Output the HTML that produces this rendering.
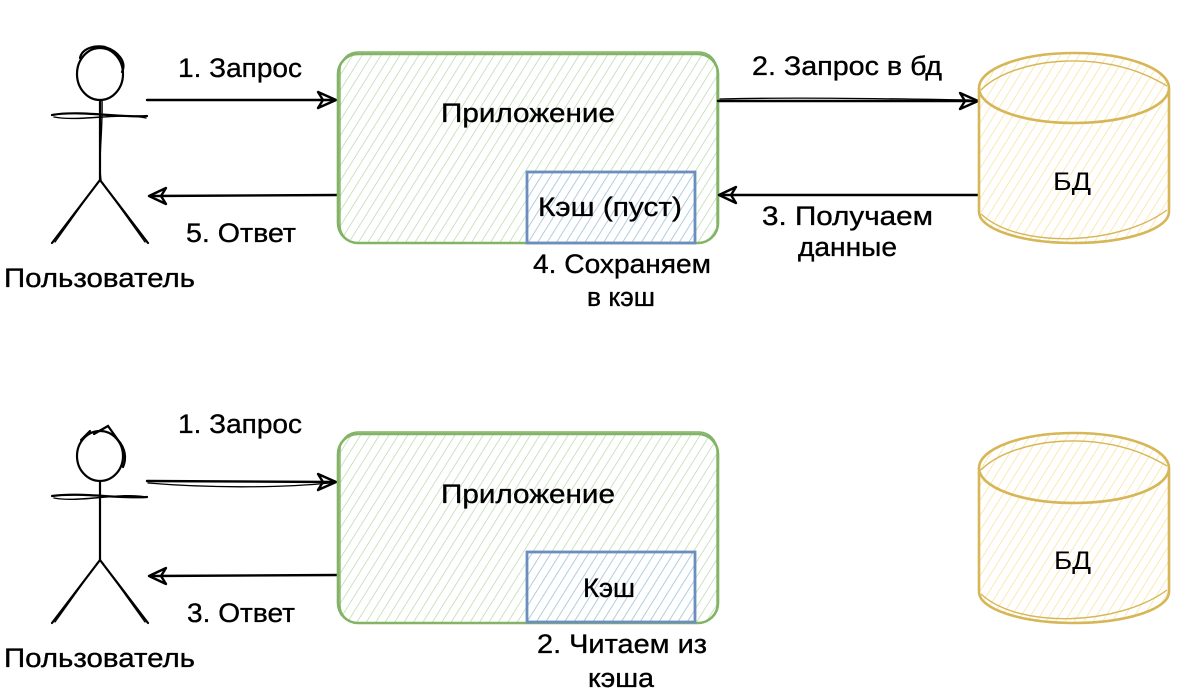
<!DOCTYPE html>
<html>
<head>
<meta charset="utf-8">
<style>
  html,body{margin:0;padding:0;background:#fff;}
  svg{display:block;}
  .t{font-family:"Liberation Sans","DejaVu Sans",sans-serif;font-size:27px;fill:#000;stroke:#000;stroke-width:0.35;}
  .b{font-family:"Liberation Sans","DejaVu Sans",sans-serif;font-size:25px;fill:#000;}
</style>
</head>
<body>
<svg width="1181" height="699" viewBox="0 0 1181 699" xmlns="http://www.w3.org/2000/svg">
  <defs>
    <pattern id="hg" width="8" height="8" patternUnits="userSpaceOnUse" patternTransform="rotate(32)">
      <line x1="0" y1="0" x2="0" y2="8" stroke="#b4d9a3" stroke-width="1.4"/>
    </pattern>
    <pattern id="hy" width="8" height="8" patternUnits="userSpaceOnUse" patternTransform="rotate(32)">
      <line x1="0" y1="0" x2="0" y2="8" stroke="#f7e09a" stroke-width="1.4"/>
    </pattern>
    <pattern id="hb" width="8" height="8" patternUnits="userSpaceOnUse" patternTransform="rotate(32)">
      <line x1="0" y1="0" x2="0" y2="8" stroke="#aac6ee" stroke-width="1.4"/>
    </pattern>
  </defs>

  <!-- ================= TOP SECTION ================= -->
  <g fill="none" stroke="#000" stroke-width="2.2" stroke-linecap="round">
    <ellipse cx="100" cy="74" rx="23" ry="26"/>
    <path d="M80 58 C82 48 95 45 105 47 C118 51 127 62 122 72" />
    <path d="M100 100 L100 180"/>
    <path d="M102 100 C103 130 98 160 101 180" stroke-width="1.4"/>
    <path d="M52 115 C80 110 120 118 147 116"/>
    <path d="M54 117 C80 122 120 112 146 118" stroke-width="1.4"/>
    <path d="M100 180 L52 243"/>
    <path d="M100 180 L148 243"/>
    <path d="M98 182 L55 242" stroke-width="1.3"/>
    <path d="M102 182 L145 242" stroke-width="1.3"/>
  </g>
  <text class="t" x="4" y="287" textLength="191" lengthAdjust="spacingAndGlyphs">Пользователь</text>

  <g fill="none" stroke="#000" stroke-width="2.4" stroke-linecap="round" stroke-linejoin="round">
    <path d="M147 100 L333 100"/>
    <path d="M318 92 L336 100 L318 108 L323 100 Z"/>
    <path d="M338 195 L152 196"/>
    <path d="M166 188 L149 196 L166 204 L161 196 Z"/>
  </g>
  <text class="t" x="178" y="77" textLength="124" lengthAdjust="spacingAndGlyphs">1. Запрос</text>
  <text class="t" x="186" y="242" textLength="110" lengthAdjust="spacingAndGlyphs">5. Ответ</text>

  <rect x="338" y="54" width="380" height="189" rx="20" fill="url(#hg)"/>
  <rect x="338" y="54" width="380" height="189" rx="20" fill="none" stroke="#82b366" stroke-width="2.6"/>
  <rect x="340" y="52" width="377" height="191" rx="18" fill="none" stroke="#82b366" stroke-width="1.4"/>
  <text class="t" x="441" y="122" textLength="174" lengthAdjust="spacingAndGlyphs">Приложение</text>

  <rect x="527" y="172" width="168" height="71" fill="url(#hb)"/>
  <rect x="527" y="172" width="168" height="71" fill="none" stroke="#6c8ebf" stroke-width="2.8"/>
  <text class="t" x="538" y="216" textLength="144" lengthAdjust="spacingAndGlyphs">Кэш (пуст)</text>
  <text class="t" x="533" y="273" textLength="178" lengthAdjust="spacingAndGlyphs">4. Сохраняем</text>
  <text class="t" x="587" y="306" textLength="68" lengthAdjust="spacingAndGlyphs">в кэш</text>

  <g fill="none" stroke="#000" stroke-width="2.4" stroke-linecap="round" stroke-linejoin="round">
    <path d="M718 101 L975 101"/>
    <path d="M720 99 C800 97 900 99 970 100" stroke-width="1.3"/>
    <path d="M960 93 L978 101 L960 109 L965 101 Z"/>
    <path d="M978 195 L722 195"/>
    <path d="M736 187 L719 195 L736 203 L731 195 Z"/>
  </g>
  <text class="t" x="752" y="75" textLength="190" lengthAdjust="spacingAndGlyphs">2. Запрос в бд</text>
  <text class="t" x="762" y="225" textLength="171" lengthAdjust="spacingAndGlyphs">3. Получаем</text>
  <text class="t" x="798" y="256" textLength="99" lengthAdjust="spacingAndGlyphs">данные</text>

  <path d="M979 88 A95 35 0 0 1 1169 88 L1169 212 A95 31 0 0 1 979 212 Z" fill="url(#hy)"/>
  <g fill="none" stroke="#d6b656" stroke-width="2.6">
    <ellipse cx="1074" cy="88" rx="95" ry="35"/>
    <path d="M979 88 L979 212"/>
    <path d="M1169 88 L1169 212"/>
    <path d="M979 212 A95 31 0 0 0 1169 212"/>
    <path d="M981 90 C1010 60 1100 45 1167 86" stroke-width="1.4"/>
    <path d="M981 214 C1020 250 1120 245 1167 210" stroke-width="1.4"/>
  </g>
  <text class="b" x="1053" y="190" textLength="38" lengthAdjust="spacingAndGlyphs">БД</text>

  <!-- ================= BOTTOM SECTION ================= -->
  <g fill="none" stroke="#000" stroke-width="2.2" stroke-linecap="round">
    <ellipse cx="100" cy="456" rx="23" ry="25"/>
    <path d="M94 434 L108 426 L118 440 C125 448 127 458 123 467" />
    <path d="M90 431 L81 440"/>
    <path d="M100 481 L100 560"/>
    <path d="M52 496 C80 492 120 499 147 497"/>
    <path d="M54 498 C80 503 120 492 146 497" stroke-width="1.4"/>
    <path d="M100 560 L52 623"/>
    <path d="M100 560 L148 623"/>
    <path d="M98 562 L55 622" stroke-width="1.3"/>
    <path d="M102 562 L145 622" stroke-width="1.3"/>
  </g>
  <text class="t" x="4" y="667" textLength="191" lengthAdjust="spacingAndGlyphs">Пользователь</text>

  <g fill="none" stroke="#000" stroke-width="2.4" stroke-linecap="round" stroke-linejoin="round">
    <path d="M147 481 L333 482"/>
    <path d="M148 483 C220 489 290 487 330 483" stroke-width="1.3"/>
    <path d="M318 474 L336 482 L318 490 L323 482 Z"/>
    <path d="M338 575 L152 576"/>
    <path d="M166 568 L149 576 L166 584 L161 576 Z"/>
  </g>
  <text class="t" x="178" y="433" textLength="124" lengthAdjust="spacingAndGlyphs">1. Запрос</text>
  <text class="t" x="187" y="622" textLength="108" lengthAdjust="spacingAndGlyphs">3. Ответ</text>

  <rect x="338" y="434" width="380" height="189" rx="20" fill="url(#hg)"/>
  <rect x="338" y="434" width="380" height="189" rx="20" fill="none" stroke="#82b366" stroke-width="2.6"/>
  <rect x="340" y="432" width="377" height="191" rx="18" fill="none" stroke="#82b366" stroke-width="1.4"/>
  <text class="t" x="441" y="503" textLength="174" lengthAdjust="spacingAndGlyphs">Приложение</text>

  <rect x="527" y="552" width="168" height="70" fill="url(#hb)"/>
  <rect x="527" y="552" width="168" height="70" fill="none" stroke="#6c8ebf" stroke-width="2.8"/>
  <text class="t" x="583" y="597" textLength="52" lengthAdjust="spacingAndGlyphs">Кэш</text>
  <text class="t" x="537" y="653" textLength="170" lengthAdjust="spacingAndGlyphs">2. Читаем из</text>
  <text class="t" x="588" y="687" textLength="66" lengthAdjust="spacingAndGlyphs">кэша</text>

  <path d="M979 468 A95 35 0 0 1 1169 468 L1169 592 A95 31 0 0 1 979 592 Z" fill="url(#hy)"/>
  <g fill="none" stroke="#d6b656" stroke-width="2.6">
    <ellipse cx="1074" cy="468" rx="95" ry="35"/>
    <path d="M979 468 L979 592"/>
    <path d="M1169 468 L1169 592"/>
    <path d="M979 592 A95 31 0 0 0 1169 592"/>
    <path d="M981 470 C1010 440 1100 425 1167 466" stroke-width="1.4"/>
    <path d="M981 594 C1020 630 1120 625 1167 590" stroke-width="1.4"/>
  </g>
  <text class="b" x="1054" y="569" textLength="37" lengthAdjust="spacingAndGlyphs">БД</text>
</svg>
</body>
</html>
